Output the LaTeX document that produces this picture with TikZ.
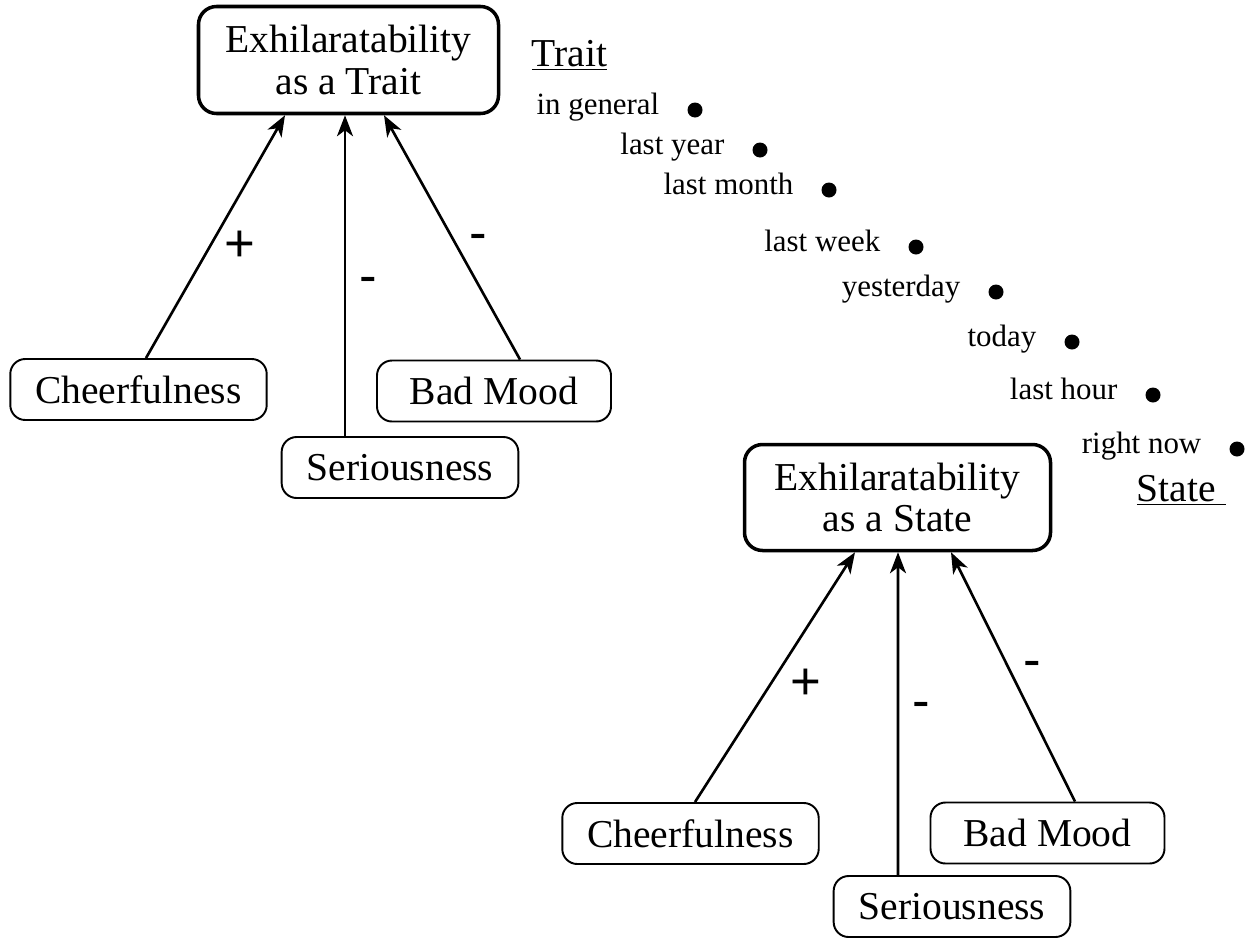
\documentclass[tikz,border=0pt]{standalone}
\usepackage{fontspec}
\setmainfont{Liberation Serif}
\newfontfamily\signfont{Liberation Sans}
\usetikzlibrary{positioning,arrows.meta}

\tikzset{
  construct/.style={draw, line width=2pt, rounded corners=0.36cm, align=center,
                    minimum width=6cm, minimum height=2.14cm, font=\fontsize{22.5}{23.7}\selectfont},
  facet/.style={draw, line width=1.1pt, rounded corners=0.3cm, minimum height=1.22cm,
                inner xsep=0.5cm, font=\fontsize{22.5}{24}\selectfont},
  influence/.style={-{Stealth[length=0.42cm,width=0.32cm,inset=0.12cm]}, line width=1.5pt},
  sign/.style={font=\signfont\fontsize{30}{32}\selectfont, inner sep=0.26cm},
  tick/.style={circle, fill, inner sep=0pt, minimum size=0.3cm},
  when/.style={font=\fontsize{17.6}{20}\selectfont, inner sep=0pt, text height=0.7em, text depth=0.22em},
  heading/.style={font=\fontsize{22.5}{24}\selectfont, inner sep=0pt, anchor=base west},
}

\begin{document}
\begin{tikzpicture}
    \useasboundingbox (0cm,0cm) rectangle (25cm,-18.76cm);

    % trait side
    \node[construct] (trait) at (6.97cm,-1.20cm) {Exhilaratability\\as a Trait};
    \node[facet] (cheer1) at (2.77cm,-7.79cm) {Cheerfulness};
    \node[facet, minimum width=4.68cm] (bad1) at (9.88cm,-7.82cm) {Bad Mood};
    \node[facet] (ser1) at (8.00cm,-9.35cm) {Seriousness};

    \draw[influence] ([xshift=0.15cm]cheer1.north)
        -- node[sign, pos=0.46, right] (plus1) {+} ([xshift=-1.27cm]trait.south);
    \draw[influence] ([xshift=-1.10cm]ser1.north)
        -- node[sign, pos=0.47, right] (minus1) {-} ([xshift=-0.07cm]trait.south);
    \draw[influence] ([xshift=0.52cm]bad1.north)
        -- node[sign, pos=0.48, right] (minus2) {-} ([xshift=0.71cm]trait.south);

    % state side
    \node[construct, minimum width=6.12cm, minimum height=2.12cm] (state) at (17.95cm,-9.95cm) {Exhilaratability\\as a State};
    \node[facet] (cheer2) at (13.81cm,-16.67cm) {Cheerfulness};
    \node[facet, minimum width=4.68cm] (bad2) at (20.95cm,-16.66cm) {Bad Mood};
    \node[facet] (ser2) at (19.04cm,-18.13cm) {Seriousness};

    \draw[influence] ([xshift=0.09cm]cheer2.north)
        -- node[sign, pos=0.47, right, xshift=0.12cm] (plus2) {+} ([xshift=-0.85cm]state.south);
    \draw[influence] ([xshift=-1.08cm]ser2.north)
        -- node[sign, pos=0.51, right] (minus3) {-} ([xshift=0.01cm]state.south);
    \draw[influence] ([xshift=0.55cm]bad2.north)
        -- node[sign, pos=0.53, right] (minus4) {-} ([xshift=1.07cm]state.south);

    % time frames between trait and state
    \node[heading] (traithead) at (10.63cm,-1.334cm) {\underline{Trait}};
    \foreach \i/\x/\y/\t in {1/13.90/-2.20/in general, 2/15.20/-3.00/last year,
                             3/16.58/-3.80/last month, 4/18.32/-4.94/last week,
                             5/19.92/-5.84/yesterday, 6/21.44/-6.84/today,
                             7/23.06/-7.90/last hour, 8/24.74/-8.98/right now} {
        \node[tick] (d\i) at (\x cm,\y cm) {};
        \node[when, left=0.55cm of d\i] (w\i) {\t};
    }
    \node[heading] (statehead) at (22.73cm,-10.03cm) {\underline{State\ }};
\end{tikzpicture}
\end{document}
